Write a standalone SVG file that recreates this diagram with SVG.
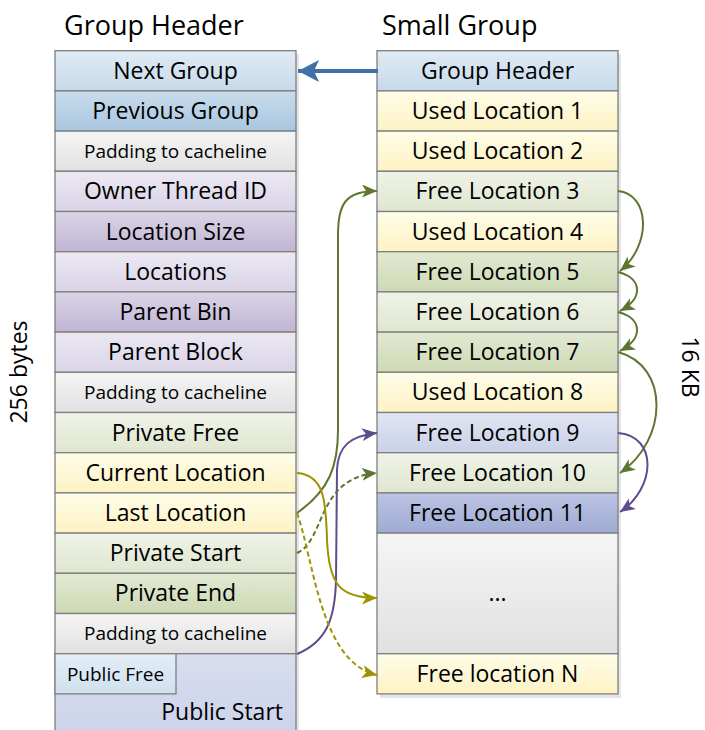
<svg xmlns="http://www.w3.org/2000/svg" width="705" height="730" viewBox="0 0 705 730">
  <defs>
    <style>
      .cell { stroke: #7f7f7f; stroke-width: 1.3; }
      .lbl { font-family: "Open Sans", "Noto Sans", "DejaVu Sans", sans-serif; font-size: 23px; fill: #000; text-anchor: middle; }
      .sm { font-size: 19px; }
      .title { font-family: "Open Sans", "Noto Sans", "DejaVu Sans", sans-serif; font-size: 27px; fill: #000; }
      .side { font-family: "Open Sans", "Noto Sans", "DejaVu Sans", sans-serif; font-size: 23px; fill: #000; text-anchor: middle; }
      .shadow { fill: #000; opacity: 0.1; }
      .olive { fill: none; stroke: #5f7632; stroke-width: 2; }
      .purple { fill: none; stroke: #5e4d8e; stroke-width: 2; }
      .gold { fill: none; stroke: #a09300; stroke-width: 2; }
      .dash { stroke-dasharray: 5 3; }
    </style>
    <linearGradient id="gBlueL" x1="0" y1="0" x2="0" y2="1"><stop offset="0" stop-color="#e0ebf5"/><stop offset="1" stop-color="#c6d9ea"/></linearGradient>
    <linearGradient id="gBlueM" x1="0" y1="0" x2="0" y2="1"><stop offset="0" stop-color="#c9dcec"/><stop offset="1" stop-color="#a8c6df"/></linearGradient>
    <linearGradient id="gGrey" x1="0" y1="0" x2="0" y2="1"><stop offset="0" stop-color="#f5f5f5"/><stop offset="1" stop-color="#e1e1e1"/></linearGradient>
    <linearGradient id="gLavL" x1="0" y1="0" x2="0" y2="1"><stop offset="0" stop-color="#ece8f3"/><stop offset="1" stop-color="#dad4e7"/></linearGradient>
    <linearGradient id="gLavD" x1="0" y1="0" x2="0" y2="1"><stop offset="0" stop-color="#dbd4e7"/><stop offset="1" stop-color="#c0b5d4"/></linearGradient>
    <linearGradient id="gGrnL" x1="0" y1="0" x2="0" y2="1"><stop offset="0" stop-color="#eff3e8"/><stop offset="1" stop-color="#dfe6cf"/></linearGradient>
    <linearGradient id="gGrnD" x1="0" y1="0" x2="0" y2="1"><stop offset="0" stop-color="#e2e9d3"/><stop offset="1" stop-color="#cdd9b4"/></linearGradient>
    <linearGradient id="gYel" x1="0" y1="0" x2="0" y2="1"><stop offset="0" stop-color="#fffde9"/><stop offset="1" stop-color="#fcf2c3"/></linearGradient>
    <linearGradient id="gPerL" x1="0" y1="0" x2="0" y2="1"><stop offset="0" stop-color="#e2e6f3"/><stop offset="1" stop-color="#c9d0e7"/></linearGradient>
    <linearGradient id="gPerD" x1="0" y1="0" x2="0" y2="1"><stop offset="0" stop-color="#bcc4e2"/><stop offset="1" stop-color="#9fabd4"/></linearGradient>
    <linearGradient id="gPubF" x1="0" y1="0" x2="0" y2="1"><stop offset="0" stop-color="#e3eef7"/><stop offset="1" stop-color="#cfe0ee"/></linearGradient>
    <linearGradient id="gPubS" x1="0" y1="0" x2="0" y2="1"><stop offset="0" stop-color="#d8ddef"/><stop offset="1" stop-color="#cbd2e9"/></linearGradient>
    <marker id="ahOlive" markerUnits="userSpaceOnUse" viewBox="0 0 15 13" refX="15" refY="6.5" markerWidth="15" markerHeight="13" orient="auto">
      <path d="M0,0 L15,6.5 L0,13 L4,6.5 Z" fill="#5f7632"/>
    </marker>
    <marker id="ahPurple" markerUnits="userSpaceOnUse" viewBox="0 0 15 13" refX="15" refY="6.5" markerWidth="15" markerHeight="13" orient="auto">
      <path d="M0,0 L15,6.5 L0,13 L4,6.5 Z" fill="#5e4d8e"/>
    </marker>
    <marker id="ahGold" markerUnits="userSpaceOnUse" viewBox="0 0 15 13" refX="15" refY="6.5" markerWidth="15" markerHeight="13" orient="auto">
      <path d="M0,0 L15,6.5 L0,13 L4,6.5 Z" fill="#a09300"/>
    </marker>
    <marker id="ahBlue" markerUnits="userSpaceOnUse" viewBox="0 0 21 22" refX="21" refY="11" markerWidth="21" markerHeight="22" orient="auto">
      <path d="M0,0 L21,11 L0,22 L5,11 Z" fill="#3f72a6"/>
    </marker>
  </defs>

  <rect width="705" height="730" fill="#fff"/>

  <!-- titles and size labels -->
  <text class="title" x="64" y="35">Group Header</text>
  <text class="title" x="382" y="35">Small Group</text>
  <text class="side" transform="translate(27,372) rotate(-90)">256 bytes</text>
  <text class="side" transform="translate(682,367) rotate(90)">16 KB</text>

  <!-- column shadows -->
  <rect class="shadow" x="58" y="54" width="241" height="680"/>
  <rect class="shadow" x="380" y="54" width="241" height="644"/>

  <!-- group header fields -->
  <g id="next-group"><rect class="cell" x="55" y="50.7" width="241" height="40.2" fill="url(#gBlueL)"/><text class="lbl" x="175.5" y="78.8">Next Group</text></g>
  <g id="previous-group"><rect class="cell" x="55" y="90.9" width="241" height="40.2" fill="url(#gBlueM)"/><text class="lbl" x="175.5" y="119">Previous Group</text></g>
  <g id="padding-1"><rect class="cell" x="55" y="131.1" width="241" height="40.2" fill="url(#gGrey)"/><text class="lbl sm" x="175.5" y="157.7">Padding to cacheline</text></g>
  <g id="owner-thread-id"><rect class="cell" x="55" y="171.3" width="241" height="40.2" fill="url(#gLavL)"/><text class="lbl" x="175.5" y="199.4">Owner Thread ID</text></g>
  <g id="location-size"><rect class="cell" x="55" y="211.5" width="241" height="40.2" fill="url(#gLavD)"/><text class="lbl" x="175.5" y="239.6">Location Size</text></g>
  <g id="locations"><rect class="cell" x="55" y="251.7" width="241" height="40.2" fill="url(#gLavL)"/><text class="lbl" x="175.5" y="279.8">Locations</text></g>
  <g id="parent-bin"><rect class="cell" x="55" y="291.9" width="241" height="40.2" fill="url(#gLavD)"/><text class="lbl" x="175.5" y="320">Parent Bin</text></g>
  <g id="parent-block"><rect class="cell" x="55" y="332.1" width="241" height="40.2" fill="url(#gLavL)"/><text class="lbl" x="175.5" y="360.2">Parent Block</text></g>
  <g id="padding-2"><rect class="cell" x="55" y="372.3" width="241" height="40.2" fill="url(#gGrey)"/><text class="lbl sm" x="175.5" y="398.9">Padding to cacheline</text></g>
  <g id="private-free"><rect class="cell" x="55" y="412.5" width="241" height="40.2" fill="url(#gGrnL)"/><text class="lbl" x="175.5" y="440.6">Private Free</text></g>
  <g id="current-location"><rect class="cell" x="55" y="452.7" width="241" height="40.2" fill="url(#gYel)"/><text class="lbl" x="175.5" y="480.8">Current Location</text></g>
  <g id="last-location"><rect class="cell" x="55" y="492.9" width="241" height="40.2" fill="url(#gYel)"/><text class="lbl" x="175.5" y="521">Last Location</text></g>
  <g id="private-start"><rect class="cell" x="55" y="533.1" width="241" height="40.2" fill="url(#gGrnL)"/><text class="lbl" x="175.5" y="561.2">Private Start</text></g>
  <g id="private-end"><rect class="cell" x="55" y="573.3" width="241" height="40.2" fill="url(#gGrnD)"/><text class="lbl" x="175.5" y="601.4">Private End</text></g>
  <g id="padding-3"><rect class="cell" x="55" y="613.5" width="241" height="40.2" fill="url(#gGrey)"/><text class="lbl sm" x="175.5" y="640.1">Padding to cacheline</text></g>
  <g id="public-start"><rect class="cell" x="55" y="653.7" width="241" height="90" fill="url(#gPubS)"/><text class="lbl" x="283" y="720" style="text-anchor:end">Public Start</text></g>
  <g id="public-free"><rect class="cell" x="55" y="653.7" width="121" height="40.2" fill="url(#gPubF)"/><text class="lbl sm" x="115.5" y="681">Public Free</text></g>

  <!-- small group slots -->
  <g id="group-header"><rect class="cell" x="377" y="50.7" width="241" height="40.2" fill="url(#gBlueL)"/><text class="lbl" x="497.5" y="78.8">Group Header</text></g>
  <g id="used-1"><rect class="cell" x="377" y="90.9" width="241" height="40.2" fill="url(#gYel)"/><text class="lbl" x="497.5" y="119">Used Location 1</text></g>
  <g id="used-2"><rect class="cell" x="377" y="131.1" width="241" height="40.2" fill="url(#gYel)"/><text class="lbl" x="497.5" y="159.2">Used Location 2</text></g>
  <g id="free-3"><rect class="cell" x="377" y="171.3" width="241" height="40.2" fill="url(#gGrnL)"/><text class="lbl" x="497.5" y="199.4">Free Location 3</text></g>
  <g id="used-4"><rect class="cell" x="377" y="211.5" width="241" height="40.2" fill="url(#gYel)"/><text class="lbl" x="497.5" y="239.6">Used Location 4</text></g>
  <g id="free-5"><rect class="cell" x="377" y="251.7" width="241" height="40.2" fill="url(#gGrnD)"/><text class="lbl" x="497.5" y="279.8">Free Location 5</text></g>
  <g id="free-6"><rect class="cell" x="377" y="291.9" width="241" height="40.2" fill="url(#gGrnL)"/><text class="lbl" x="497.5" y="320">Free Location 6</text></g>
  <g id="free-7"><rect class="cell" x="377" y="332.1" width="241" height="40.2" fill="url(#gGrnD)"/><text class="lbl" x="497.5" y="360.2">Free Location 7</text></g>
  <g id="used-8"><rect class="cell" x="377" y="372.3" width="241" height="40.2" fill="url(#gYel)"/><text class="lbl" x="497.5" y="400.4">Used Location 8</text></g>
  <g id="free-9"><rect class="cell" x="377" y="412.5" width="241" height="40.2" fill="url(#gPerL)"/><text class="lbl" x="497.5" y="440.6">Free Location 9</text></g>
  <g id="free-10"><rect class="cell" x="377" y="452.7" width="241" height="40.2" fill="url(#gGrnL)"/><text class="lbl" x="497.5" y="480.8">Free Location 10</text></g>
  <g id="free-11"><rect class="cell" x="377" y="492.9" width="241" height="40.2" fill="url(#gPerD)"/><text class="lbl" x="497.5" y="521">Free Location 11</text></g>
  <g id="ellipsis"><rect class="cell" x="377" y="533.1" width="241" height="120.6" fill="url(#gGrey)"/><text class="lbl" x="497.5" y="601">...</text></g>
  <g id="free-n"><rect class="cell" x="377" y="653.7" width="241" height="40.2" fill="url(#gYel)"/><text class="lbl" x="497.5" y="681.8">Free location N</text></g>

  <!-- pointers -->
  <g id="connectors">
    <path d="M378,71 L298,71" fill="none" stroke="#3f72a6" stroke-width="4" marker-end="url(#ahBlue)"/>
    <path class="olive" d="M297,513 C330,490 338,465 338,430 L338,235 C338,203 346,191 377,191" marker-end="url(#ahOlive)"/>
    <path class="olive" d="M618,191 C650,194 652,245 620,271" marker-end="url(#ahOlive)"/>
    <path class="olive" d="M618,272 C642,278 644,298 620,311" marker-end="url(#ahOlive)"/>
    <path class="olive" d="M618,312 C642,318 644,338 620,351" marker-end="url(#ahOlive)"/>
    <path class="olive" d="M618,352 C670,366 668,440 620,473" marker-end="url(#ahOlive)"/>
    <path class="purple" d="M618,433 C658,436 656,488 620,512" marker-end="url(#ahPurple)"/>
    <path class="purple" d="M297,654 C326,642 335,620 336,580 L337,470 C338,446 350,436 377,433" marker-end="url(#ahPurple)"/>
    <path class="olive dash" d="M297,553 C326,540 316,478 377,473" marker-end="url(#ahOlive)"/>
    <path class="gold" d="M297,473 C324,475 326,500 327,540 C329,585 340,598 377,598" marker-end="url(#ahGold)"/>
    <path class="gold dash" d="M297,513 C314,560 320,662 377,675" marker-end="url(#ahGold)"/>
  </g>
</svg>
